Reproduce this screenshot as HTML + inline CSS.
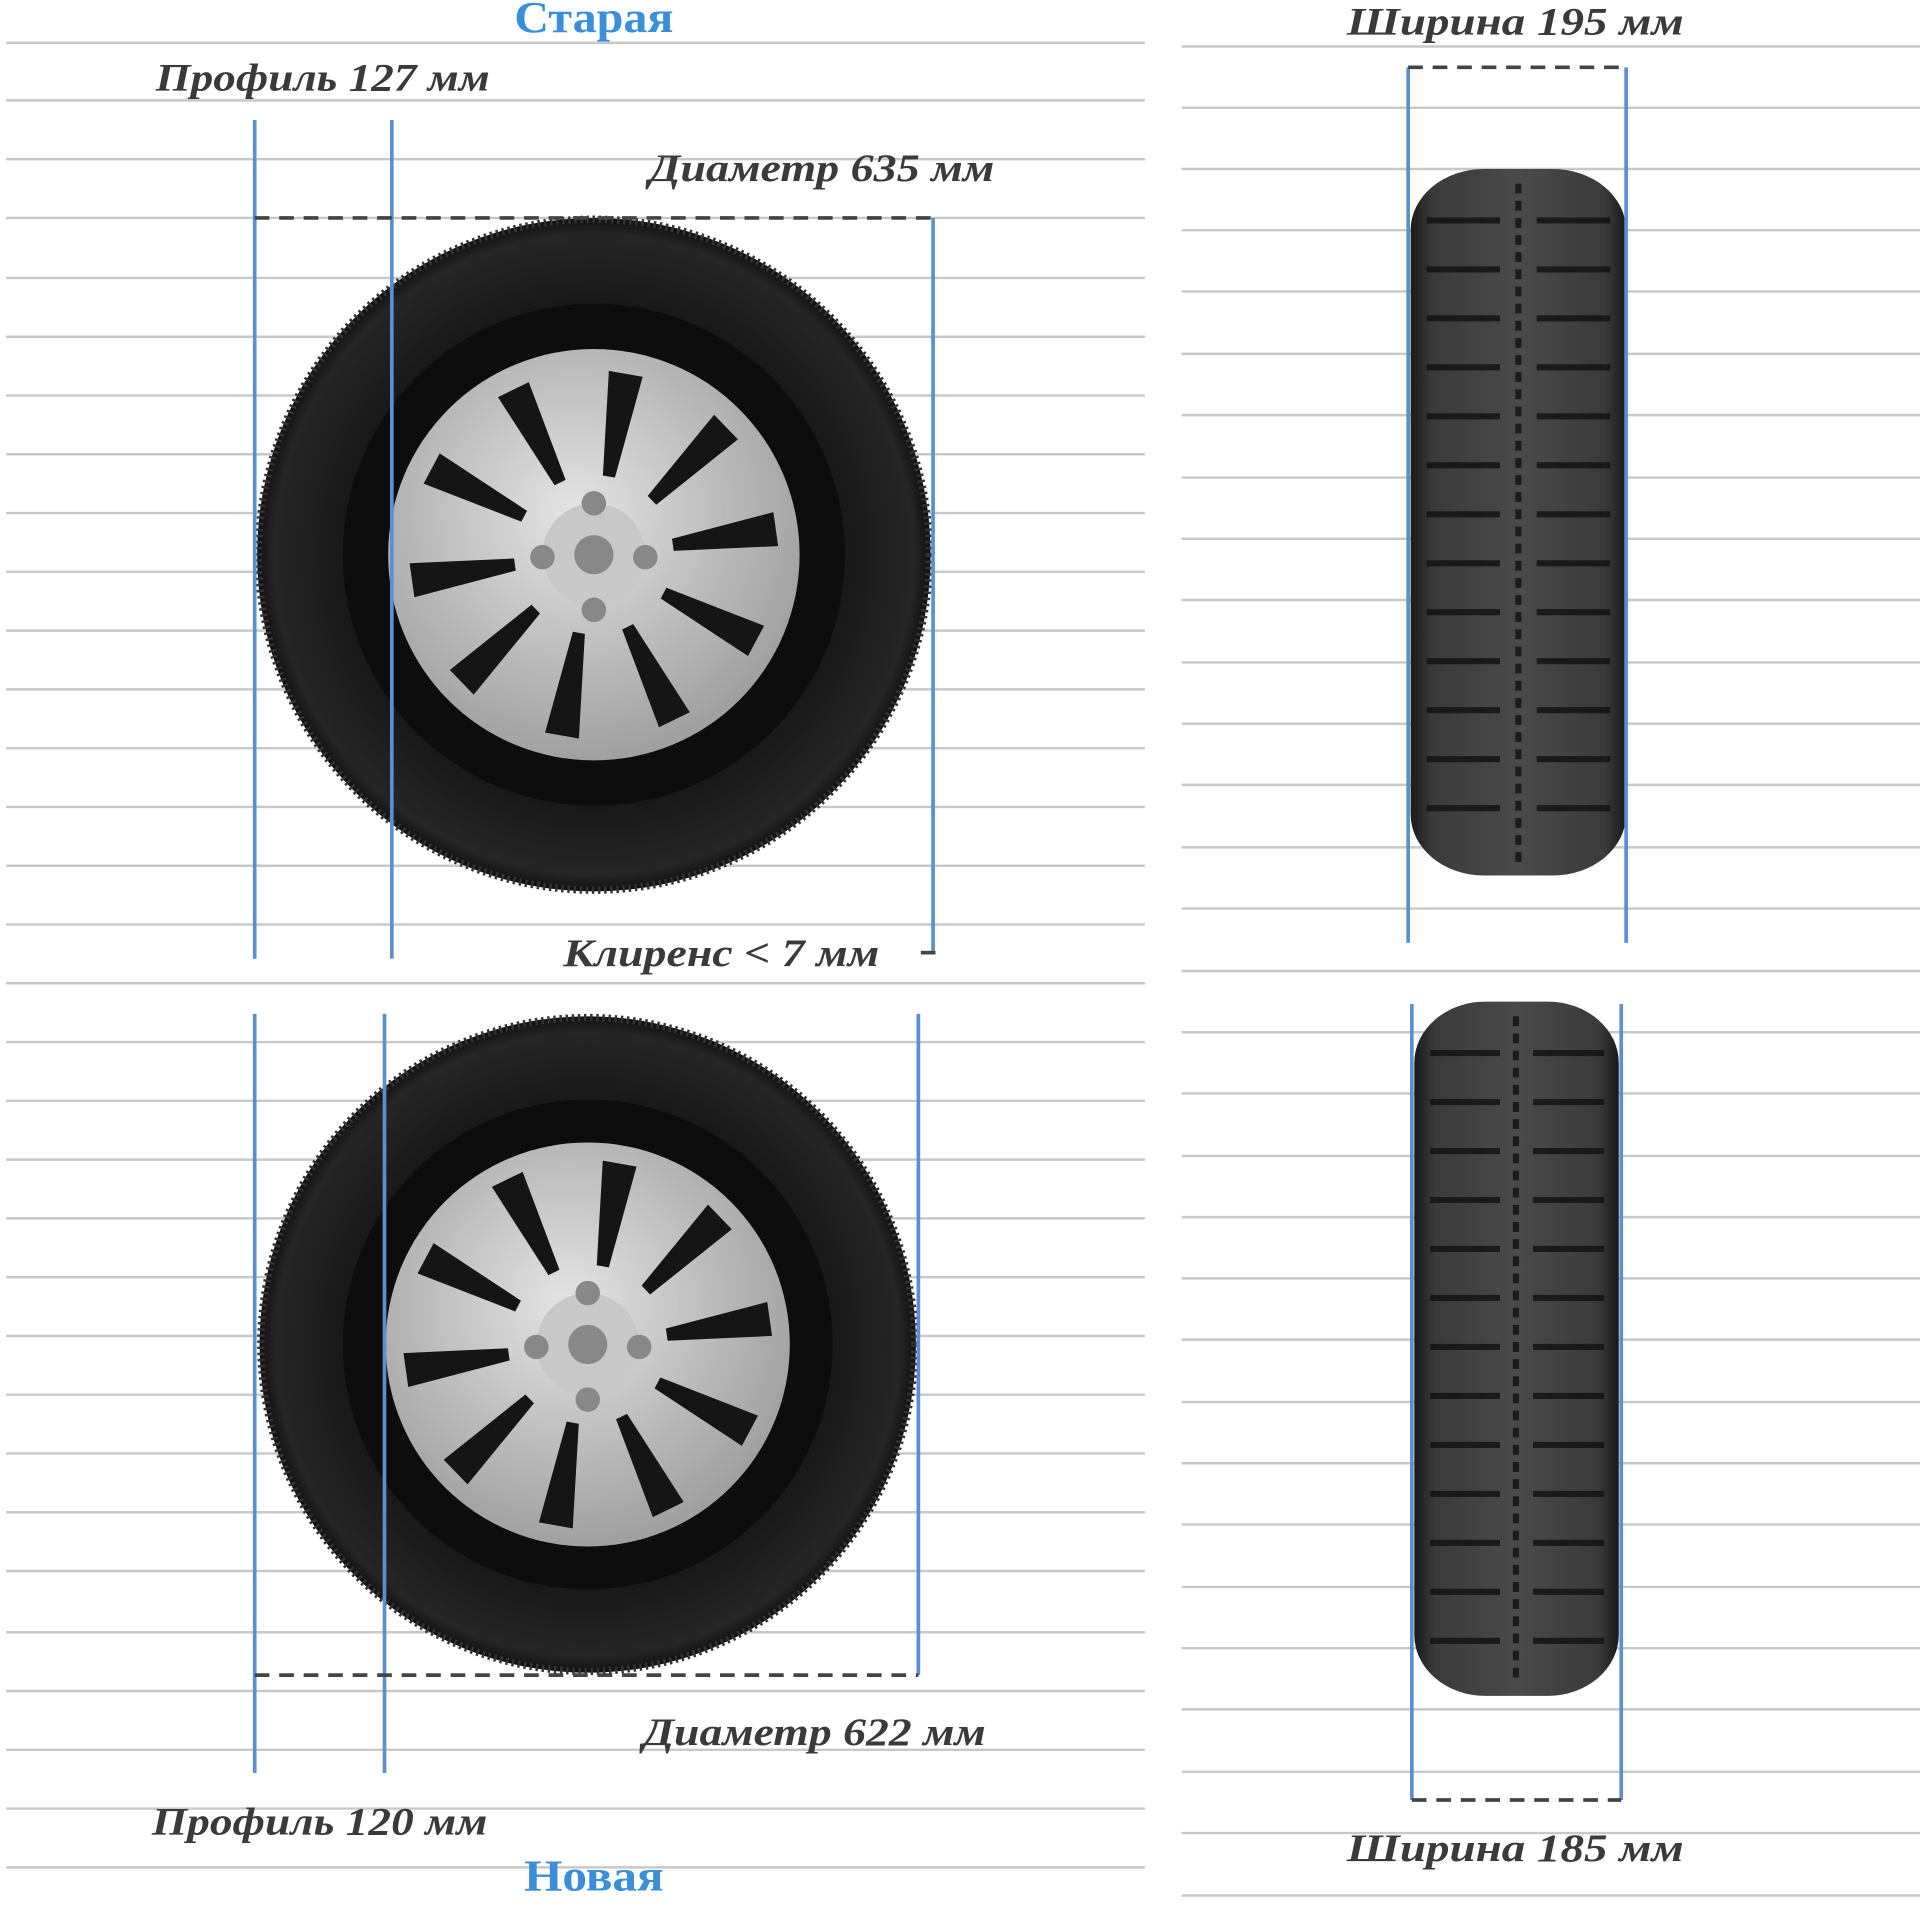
<!DOCTYPE html>
<html><head><meta charset="utf-8"><style>
html,body{margin:0;padding:0;background:#fff;}
svg{display:block}
text{font-family:"Liberation Serif",serif;font-style:italic;font-weight:bold;fill:#3a3a3a;font-size:32px}
</style></head><body>
<svg width="1920" height="1920" viewBox="0 0 1568 1568" xmlns="http://www.w3.org/2000/svg">
<defs>
<radialGradient id="tire" cx="50%" cy="50%" r="50%">
<stop offset="0.55" stop-color="#0b0b0b"/><stop offset="0.8" stop-color="#1c1c1c"/><stop offset="0.95" stop-color="#262626"/><stop offset="1" stop-color="#111"/>
</radialGradient>
<radialGradient id="rim" cx="45%" cy="40%" r="60%">
<stop offset="0" stop-color="#e4e4e4"/><stop offset="1" stop-color="#a0a0a0"/>
</radialGradient>
<linearGradient id="tread" x1="0" x2="1">
<stop offset="0" stop-color="#1a1a1a"/><stop offset="0.1" stop-color="#3a3a3a"/><stop offset="0.5" stop-color="#4a4a4a"/><stop offset="0.9" stop-color="#3a3a3a"/><stop offset="1" stop-color="#1a1a1a"/>
</linearGradient>
<g id="holes" fill="#151515">
<path d="M-14 -150 L14 -150 L6 -65 L-4 -65Z" transform="rotate(10)"/>
<path d="M-14 -150 L14 -150 L6 -65 L-4 -65Z" transform="rotate(46)"/>
<path d="M-14 -150 L14 -150 L6 -65 L-4 -65Z" transform="rotate(82)"/>
<path d="M-14 -150 L14 -150 L6 -65 L-4 -65Z" transform="rotate(118)"/>
<path d="M-14 -150 L14 -150 L6 -65 L-4 -65Z" transform="rotate(154)"/>
<path d="M-14 -150 L14 -150 L6 -65 L-4 -65Z" transform="rotate(190)"/>
<path d="M-14 -150 L14 -150 L6 -65 L-4 -65Z" transform="rotate(226)"/>
<path d="M-14 -150 L14 -150 L6 -65 L-4 -65Z" transform="rotate(262)"/>
<path d="M-14 -150 L14 -150 L6 -65 L-4 -65Z" transform="rotate(298)"/>
<path d="M-14 -150 L14 -150 L6 -65 L-4 -65Z" transform="rotate(334)"/>
</g>
</defs>
<g stroke="#c8c8c8" stroke-width="2">
<path d="M5 35H935M5 82H935M5 130H935M5 178H935M5 227H935M5 275H935M5 323H935M5 371H935M5 419H935M5 467H935M5 515H935M5 563H935M5 611H935M5 659H935M5 707H935M5 755H935M5 803H935M5 851H935M5 899H935M5 947H935M5 995H935M5 1043H935M5 1091H935M5 1139H935M5 1187H935M5 1235H935M5 1283H935M5 1333H935M5 1381H935M5 1429H935M5 1477H935M5 1525H935"/>
<path d="M965 38H1568M965 88H1568M965 138H1568M965 188H1568M965 238H1568M965 289H1568M965 339H1568M965 390H1568M965 440H1568M965 490H1568M965 541H1568M965 591H1568M965 641H1568M965 692H1568M965 742H1568M965 793H1568M965 843H1568M965 893H1568M965 944H1568M965 994H1568M965 1044H1568M965 1094H1568M965 1145H1568M965 1195H1568M965 1245H1568M965 1296H1568M965 1346H1568M965 1396H1568M965 1447H1568M965 1497H1568M965 1548H1568"/>
</g>

<g transform="translate(485,453)">
<circle r="275" fill="url(#tire)"/>
<circle r="274" fill="none" stroke="#333" stroke-width="6" stroke-dasharray="2 3"/>
<circle r="205" fill="#0d0d0d"/>
<circle r="168" fill="url(#rim)"/>
<use href="#holes"/>
<circle r="42" fill="#c8c8c8"/>
<circle r="16" fill="#888"/>
<circle cx="0" cy="-42" r="10" fill="#888"/><circle cx="-42" cy="2" r="10" fill="#888"/><circle cx="42" cy="2" r="10" fill="#888"/><circle cx="0" cy="45" r="10" fill="#888"/>
</g>
<g transform="translate(480,1098)">
<circle r="268" fill="url(#tire)"/>
<circle r="267" fill="none" stroke="#333" stroke-width="6" stroke-dasharray="2 3"/>
<circle r="200" fill="#0d0d0d"/>
<circle r="165" fill="url(#rim)"/>
<use href="#holes"/>
<circle r="42" fill="#c8c8c8"/>
<circle r="16" fill="#888"/>
<circle cx="0" cy="-42" r="10" fill="#888"/><circle cx="-42" cy="2" r="10" fill="#888"/><circle cx="42" cy="2" r="10" fill="#888"/><circle cx="0" cy="45" r="10" fill="#888"/>
</g>

<rect x="1152" y="138" width="176" height="577" rx="60" ry="50" fill="url(#tread)"/>
<g stroke="#111" stroke-width="5" opacity="0.8">
<path d="M1165 180H1225M1255 180H1315M1165 220H1225M1255 220H1315M1165 260H1225M1255 260H1315M1165 300H1225M1255 300H1315M1165 340H1225M1255 340H1315M1165 380H1225M1255 380H1315M1165 420H1225M1255 420H1315M1165 460H1225M1255 460H1315M1165 500H1225M1255 500H1315M1165 540H1225M1255 540H1315M1165 580H1225M1255 580H1315M1165 620H1225M1255 620H1315M1165 660H1225M1255 660H1315"/>
<path d="M1240 150V705" stroke-dasharray="8 6"/>
</g>
<rect x="1155" y="818" width="167" height="567" rx="58" ry="50" fill="url(#tread)"/>
<g stroke="#111" stroke-width="5" opacity="0.8">
<path d="M1168 860H1225M1252 860H1310M1168 900H1225M1252 900H1310M1168 940H1225M1252 940H1310M1168 980H1225M1252 980H1310M1168 1020H1225M1252 1020H1310M1168 1060H1225M1252 1060H1310M1168 1100H1225M1252 1100H1310M1168 1140H1225M1252 1140H1310M1168 1180H1225M1252 1180H1310M1168 1220H1225M1252 1220H1310M1168 1260H1225M1252 1260H1310M1168 1300H1225M1252 1300H1310M1168 1340H1225M1252 1340H1310"/>
<path d="M1238 830V1375" stroke-dasharray="8 6"/>
</g>

<g stroke="#5b8fd0" stroke-width="3" fill="none">
<path d="M208 98V783M320 98V783M762 178V778"/>
<path d="M208 828V1448M314 828V1448M750 828V1368"/>
<path d="M1150 55V770M1328 55V770M1153 820V1470M1324 820V1470"/>
</g>
<g stroke="#444" stroke-width="3" stroke-dasharray="12 8" fill="none">
<path d="M208 178H762M208 1368H750M1150 55H1328M1153 1470H1324"/>
</g>
<path d="M752 778H764" stroke="#444" stroke-width="3"/>

<text x="420" y="26" textLength="130" lengthAdjust="spacingAndGlyphs" style="fill:#3b8fd8;font-style:normal;font-size:36px">Старая</text>
<text x="428" y="1544" textLength="114" lengthAdjust="spacingAndGlyphs" style="fill:#3b8fd8;font-style:normal;font-size:36px">Новая</text>
<text x="127" y="74" textLength="273" lengthAdjust="spacingAndGlyphs">Профиль 127 мм</text>
<text x="530" y="148" textLength="282" lengthAdjust="spacingAndGlyphs">Диаметр 635 мм</text>
<text x="460" y="789" textLength="258" lengthAdjust="spacingAndGlyphs">Клиренс &lt; 7 мм</text>
<text x="525" y="1425" textLength="280" lengthAdjust="spacingAndGlyphs">Диаметр 622 мм</text>
<text x="124" y="1498" textLength="274" lengthAdjust="spacingAndGlyphs">Профиль 120 мм</text>
<text x="1100" y="28" textLength="275" lengthAdjust="spacingAndGlyphs">Ширина 195 мм</text>
<text x="1100" y="1520" textLength="275" lengthAdjust="spacingAndGlyphs">Ширина 185 мм</text>
</svg>
</body></html>
